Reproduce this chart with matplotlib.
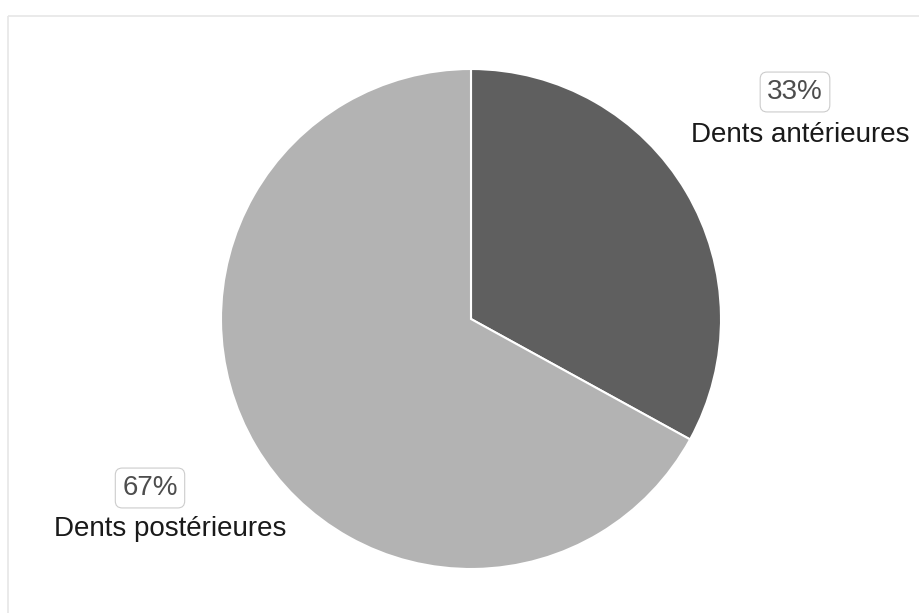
import matplotlib.pyplot as plt
from matplotlib.patches import Rectangle

plt.rcParams['font.family'] = ['Liberation Sans', 'DejaVu Sans']

categories = ['Dents antérieures', 'Dents postérieures']
shares = [33, 67]
colors = ['#5f5f5f', '#b3b3b3']

fig = plt.figure(figsize=(9.2, 6.13), dpi=100)
ax = fig.add_axes([0, 0, 1, 1])

# outer panel border (runs off the right and bottom edges)
ax.add_patch(Rectangle((8, 16), 1000, 700, fill=False, edgecolor='#e6e6e6', lw=1.2))

# y axis is inverted below, so start at -90 and go counterclockwise in data
# units, which reads as clockwise from 12 o'clock on screen
ax.pie(shares, colors=colors, center=(471, 319), radius=250, startangle=-90,
       counterclock=True, wedgeprops=dict(edgecolor='white', linewidth=1.5),
       frame=True)
ax.set_xlim(0, 920)
ax.set_ylim(613, 0)
ax.set_aspect('equal')
ax.axis('off')

pct_pos = [(795, 92), (150, 488)]
name_pos = [(800, 135), (170, 529)]
for (px, py), (nx, ny), cat, s in zip(pct_pos, name_pos, categories, shares):
    ax.text(px, py, f'{s}%', ha='center', va='center',
            fontsize=20, color='#4d4d4d',
            bbox=dict(boxstyle='round,pad=0.25,rounding_size=0.25', fc='white', ec='#cccccc', lw=0.8))
    ax.text(nx, ny, cat, ha='center', va='center', fontsize=20, color='#1a1a1a')

fig.savefig('out.png', dpi=100)
